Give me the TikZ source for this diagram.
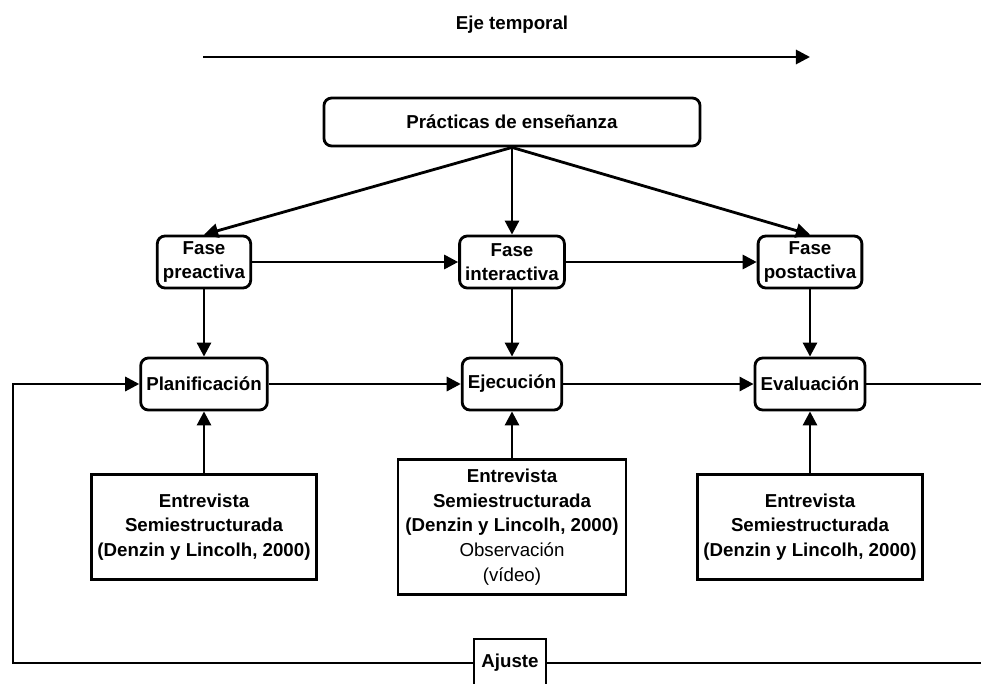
\documentclass[tikz,border=0pt]{standalone}
\usepackage{fontspec}
\setmainfont{Liberation Sans}
\usepackage{tikz}
\usetikzlibrary{arrows.meta,positioning}

\begin{document}
\begin{tikzpicture}[x=0.025cm,y=-0.025cm,
        every node/.style={font=\fontsize{13.3}{17.5}\selectfont\bfseries, align=center},
        rbox/.style={draw, line width=2pt, rounded corners=5.5pt, inner xsep=4pt, inner ysep=3pt, minimum height=1.3cm},
        sbox/.style={draw, line width=2pt, inner xsep=4pt},
        conn/.style={line width=2pt, -{Triangle[length=10pt,width=10pt]}},
        wire/.style={line width=2pt}]
            \path[use as bounding box] (0,0) rectangle (981,684);

            % time axis
            \node (eje) at (512,25) {Eje temporal};
            \coordinate (ejeA) at (203,57);
            \coordinate (ejeB) at (810,57);
            \draw[conn] (ejeA) -- (ejeB);

            \node[rbox, minimum width=9.4cm, minimum height=1.2cm] (prac) at (512,122) {Prácticas de enseñanza};

            \node[rbox] (pre)   at (204,262) {Fase\\preactiva};
            \node[rbox] (inter) at (512,262) {Fase\\interactiva};
            \node[rbox] (post)  at (810,262) {Fase\\postactiva};

            \node[rbox] (plan) at (204,384) {Planificación};
            \node[rbox] (ejec) at (512,384) {Ejecución};
            \node[rbox] (eval) at (810,384) {Evaluación};

            \node[sbox, minimum width=5.55cm, minimum height=2.62cm] (ent1) at (204,527)
                {Entrevista\\Semiestructurada\\(Denzin y Lincolh, 2000)};
            \node[sbox, minimum width=5.7cm, minimum height=3.38cm] (ent2) at (512,527)
                {Entrevista\\Semiestructurada\\(Denzin y Lincolh, 2000)\\\mdseries Observación\\\mdseries (vídeo)};
            \node[sbox, minimum width=5.55cm, minimum height=2.62cm] (ent3) at (810,527)
                {Entrevista\\Semiestructurada\\(Denzin y Lincolh, 2000)};

            \node[sbox, minimum width=1.8cm, minimum height=1.2cm] (ajuste) at (510,663) {Ajuste};

            % phases
            \draw[conn] (prac.south) -- (pre.north);
            \draw[conn] (prac.south) -- (inter.north);
            \draw[conn] (prac.south) -- (post.north);
            \draw[conn] (pre) -- (inter);
            \draw[conn] (inter) -- (post);

            \draw[conn] (pre) -- (plan);
            \draw[conn] (inter) -- (ejec);
            \draw[conn] (post) -- (eval);
            \draw[conn] (plan) -- (ejec);
            \draw[conn] (ejec) -- (eval);

            \draw[conn] (ent1) -- (plan);
            \draw[conn] (ent2) -- (ejec);
            \draw[conn] (ent3) -- (eval);

            % feedback loop
            \coordinate (rtop) at (981,384);
            \coordinate (rbot) at (981,663);
            \coordinate (lbot) at (13,663);
            \draw[wire] (eval) -- (rtop);
            \draw[wire] (ajuste) -- (rbot);
            \draw[conn] (ajuste.west) -- (lbot) |- (plan.west);
        \end{tikzpicture}
\end{document}
